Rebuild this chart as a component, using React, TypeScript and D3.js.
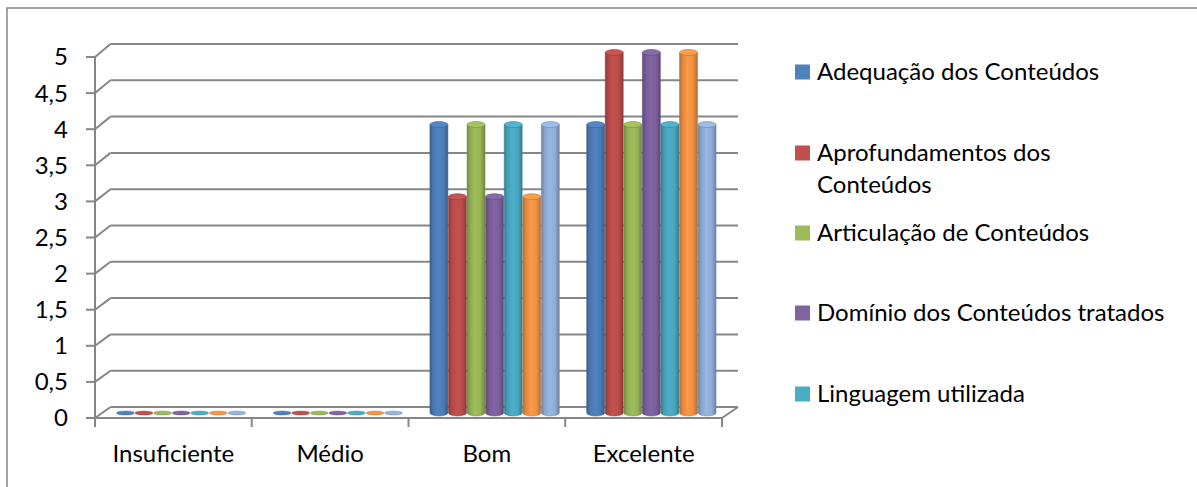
import React from "react";
import * as d3 from "d3";

const categories = ["Insuficiente", "Médio", "Bom", "Excelente"];
const seriesNames = [
  "Adequação dos Conteúdos",
  "Aprofundamentos dos Conteúdos",
  "Articulação de Conteúdos",
  "Domínio dos Conteúdos tratados",
  "Linguagem utilizada",
  "Série 6",
  "Série 7",
];
const seriesColors = ["#4F81BD", "#C0504D", "#9BBB59", "#8064A2", "#4BACC6", "#F79646", "#95B3DE"];
// values[series][category]
const values = [
  [0, 0, 4, 4],
  [0, 0, 3, 5],
  [0, 0, 4, 4],
  [0, 0, 3, 5],
  [0, 0, 4, 4],
  [0, 0, 3, 5],
  [0, 0, 4, 4],
];
const yTicks = [0, 0.5, 1, 1.5, 2, 2.5, 3, 3.5, 4, 4.5, 5];
const legendShown = 5;
const legendLines = [
  ["Adequação dos Conteúdos"],
  ["Aprofundamentos dos", "Conteúdos"],
  ["Articulação de Conteúdos"],
  ["Domínio dos Conteúdos tratados"],
  ["Linguagem utilizada"],
];

const W = 1197;
const H = 487;
const FONT = "Lato, 'Open Sans', sans-serif";
const FS = 24;
const GRID = "#868686";

export default function App() {
  const x0Front = 95, x1Front = 722;
  const dx = 15.5;
  const yFront = d3.scaleLinear().domain([0, 5]).range([418, 57]);
  const yBack = d3.scaleLinear().domain([0, 5]).range([407, 44]);
  const yBar = d3.scaleLinear().domain([0, 5]).range([413, 52.5]);

  const xCat = d3.scaleBand().domain(categories).range([x0Front, x1Front]).padding(0);
  const xCatBar = d3.scaleBand().domain(categories).range([x0Front + dx / 2, x1Front + dx / 2]).padding(0);
  const xSeries = d3
    .scaleBand()
    .domain(seriesNames)
    .range([0, xCatBar.bandwidth()])
    .paddingInner(0)
    .paddingOuter(0.72);

  const bw = xSeries.bandwidth();
  const ry = 3;

  const fmt = (v: number) => String(v).replace(".", ",");

  const bars: React.ReactNode[] = [];
  seriesNames.forEach((s, si) => {
    categories.forEach((c, ci) => {
      const v = values[si][ci];
      const xl = (xCatBar(c) as number) + (xSeries(s) as number) + 0.3;
      const w = bw - 0.6;
      const cx = xl + w / 2;
      const yb = yBar(0);
      const yt = yBar(v);
      const col = d3.color(seriesColors[si])!;
      const topFill = d3.color(seriesColors[si])!.brighter(0.15).toString();
      const stroke = d3.color(seriesColors[si])!.darker(0.8).toString();
      if (v === 0) {
        bars.push(
          <ellipse key={`${si}-${ci}`} cx={cx} cy={yb} rx={w / 2} ry={2} fill={col.toString()} stroke={stroke} strokeWidth={0.4} />
        );
        return;
      }
      const d = `M${xl},${yt} L${xl},${yb} A${w / 2},${ry} 0 0 0 ${xl + w},${yb} L${xl + w},${yt} Z`;
      bars.push(
        <g key={`${si}-${ci}`}>
          <path d={d} fill={`url(#grad${si})`} stroke={stroke} strokeWidth={0.5} />
          <ellipse cx={cx} cy={yt} rx={w / 2} ry={ry} fill={topFill} stroke={stroke} strokeWidth={0.6} />
        </g>
      );
    });
  });

  return (
    <svg
      width={W}
      height={H}
      style={{ position: "absolute", left: 0, top: 0, background: "#fff" }}
      fontFamily={FONT}
    >
      <defs>
        {seriesColors.map((c, i) => {
          const base = d3.color(c)!;
          return (
            <linearGradient key={i} id={`grad${i}`} x1="0" x2="1" y1="0" y2="0">
              <stop offset="0%" stopColor={base.darker(0.9).toString()} />
              <stop offset="18%" stopColor={base.darker(0.25).toString()} />
              <stop offset="45%" stopColor={base.brighter(0.05).toString()} />
              <stop offset="75%" stopColor={base.darker(0.1).toString()} />
              <stop offset="100%" stopColor={base.darker(0.9).toString()} />
            </linearGradient>
          );
        })}
      </defs>
      <rect x={0} y={0} width={W} height={H} fill="#fff" />
      {/* outer border */}
      <path d={`M7,${H} L7,8 L${W},8`} fill="none" stroke={GRID} strokeWidth={1.5} />

      {/* back wall gridlines + side wall diagonals */}
      {yTicks.map((t) => (
        <g key={t}>
          <line x1={x0Front + dx} x2={738} y1={yBack(t)} y2={yBack(t)} stroke={GRID} strokeWidth={2} />
          <line x1={x0Front} x2={x0Front + dx} y1={yFront(t)} y2={yBack(t)} stroke={GRID} strokeWidth={2} />
          <line x1={86} x2={x0Front} y1={yFront(t)} y2={yFront(t)} stroke={GRID} strokeWidth={2} />
          <text x={68} y={yFront(t)} dy="0.35em" textAnchor="end" fontSize={FS} fill="#000">
            {fmt(t)}
          </text>
        </g>
      ))}
      {/* floor */}
      <line x1={x0Front} x2={x1Front} y1={yFront(0)} y2={yFront(0)} stroke={GRID} strokeWidth={2} />
      <line x1={x1Front} x2={738} y1={yFront(0)} y2={yBack(0)} stroke={GRID} strokeWidth={2} />
      {/* value axis */}
      <line x1={x0Front} x2={x0Front} y1={yFront(5)} y2={yFront(0)} stroke={GRID} strokeWidth={2} />
      {/* category ticks */}
      {[...categories.map((c) => xCat(c) as number), x1Front].map((x, i) => (
        <line key={i} x1={x} x2={x} y1={yFront(0)} y2={427} stroke={GRID} strokeWidth={2} />
      ))}

      {bars}

      {categories.map((c) => (
        <text
          key={c}
          x={(xCat(c) as number) + xCat.bandwidth() / 2}
          y={454}
          dy="0.35em"
          textAnchor="middle"
          fontSize={FS}
          fill="#000"
        >
          {c}
        </text>
      ))}

      {/* legend */}
      {seriesNames.slice(0, legendShown).map((s, i) => {
        const ys = [72, 153, 233, 313, 394];
        return (
          <g key={s}>
            <rect x={795} y={ys[i] - 7.5} width={15} height={15} fill={seriesColors[i]} />
            {legendLines[i].map((ln, li) => (
              <text key={li} x={817} y={ys[i] + li * 32} dy="0.35em" fontSize={FS} fill="#000">
                {ln}
              </text>
            ))}
          </g>
        );
      })}
    </svg>
  );
}
